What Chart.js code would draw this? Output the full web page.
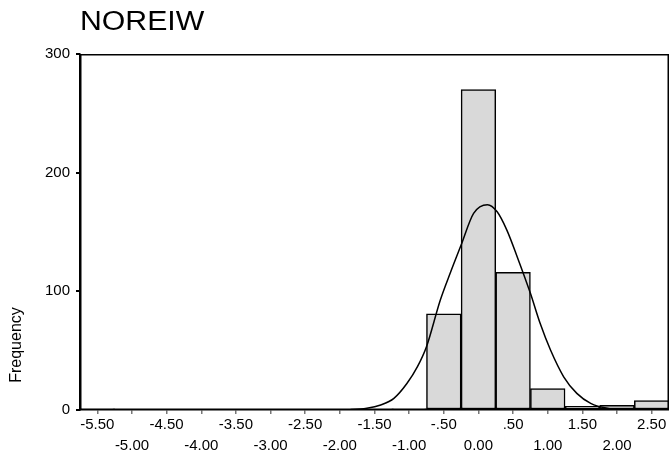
<!DOCTYPE html>
<html>
<head>
<meta charset="utf-8">
<script src="https://cdn.jsdelivr.net/npm/chart.js@4/dist/chart.umd.min.js"></script>
<style>
  html, body { margin: 0; padding: 0; background: #fff; }
  #wrap { width: 669px; height: 459px; position: relative; }
</style>
</head>
<body>
<div id="wrap"><canvas id="myChart" width="669" height="459"></canvas></div>
<script>
// histogram bins (centres) and frequencies
var binCenters = [-5.5, -5.0, -4.5, -4.0, -3.5, -3.0, -2.5, -2.0, -1.5, -1.0, -0.5, 0.0, 0.5, 1.0, 1.5, 2.0, 2.5];
var binCounts  = [1, 0, 0, 0, 0, 0, 0, 0, 0, 1, 81, 270, 116, 18, 3, 4, 8];

// normal curve
var curveX = [-5.75, -2.1, -1.85, -1.61, -1.41, -1.22, -1.03, -0.88, -0.75, -0.55, -0.40, -0.25, -0.07, 0.13, 0.27, 0.41, 0.56, 0.75, 0.89, 1.04, 1.23, 1.42, 1.62, 1.86, 2.10, 2.40, 2.75];
var curveY = [0, 0.1, 0.3, 1.4, 4.2, 9.8, 22.5, 36.5, 53.3, 92.7, 116.5, 139, 165.7, 173, 167, 151.6, 129, 98.3, 73, 50.5, 28, 14, 5.6, 1.4, 0.3, 0, 0];

// axis ticks
var xTickValues = [-5.5, -5.0, -4.5, -4.0, -3.5, -3.0, -2.5, -2.0, -1.5, -1.0, -0.5, 0.0, 0.5, 1.0, 1.5, 2.0, 2.5];
var xTickLabels = ['-5.50', '-5.00', '-4.50', '-4.00', '-3.50', '-3.00', '-2.50', '-2.00', '-1.50', '-1.00', '-.50', '0.00', '.50', '1.00', '1.50', '2.00', '2.50'];
var yTickValues = [0, 100, 200, 300];

var chartTitle = 'NOREIW';
var yTitle = 'Frequency';

var fontFam = '"Liberation Sans", Arial, sans-serif';

var barData = binCenters.map(function (c, i) { return { x: c, y: binCounts[i] }; });
var lineData = curveX.map(function (x, i) { return { x: x, y: curveY[i] }; });

// frame + titles
var extras = {
    id: 'extras',
    afterDatasetsDraw: function (chart) {
        var ctx = chart.ctx, a = chart.chartArea;
        ctx.save();
        ctx.strokeStyle = '#000';
        ctx.lineWidth = 1.5;
        ctx.strokeRect(a.left + 0.75, a.top + 0.75, a.right - a.left - 1.5, a.bottom - a.top - 1.5);
        ctx.restore();
    },
    afterDraw: function (chart) {
        var ctx = chart.ctx, a = chart.chartArea;
        ctx.save();
        ctx.fillStyle = '#000';
        ctx.textAlign = 'left';
        ctx.textBaseline = 'alphabetic';
        ctx.save();
        ctx.translate(a.left, 30);
        ctx.scale(1.12, 1);
        ctx.font = '27px ' + fontFam;
        ctx.fillText(chartTitle, 0, 0);
        ctx.restore();
        ctx.translate(21, a.bottom - 65);
        ctx.rotate(-Math.PI / 2);
        ctx.font = '16px ' + fontFam;
        ctx.textAlign = 'center';
        ctx.fillText(yTitle, 0, 0);
        ctx.restore();
    }
};

var ctx = document.getElementById('myChart').getContext('2d');
var chart = new Chart(ctx, {
    type: 'bar',
    data: {
        datasets: [{
            type: 'line',
            data: lineData,
            borderColor: '#000',
            borderWidth: 1.5,
            pointRadius: 0,
            cubicInterpolationMode: 'monotone',
            fill: false,
            order: 0
        }, {
            type: 'bar',
            data: barData,
            backgroundColor: '#d9d9d9',
            borderColor: '#000',
            borderWidth: 1.5,
            borderSkipped: false,
            barPercentage: 1,
            categoryPercentage: 1,
            order: 1
        }]
    },
    options: {
        responsive: false,
        animation: false,
        layout: { padding: { top: 54, left: 0, right: 0, bottom: 0 } },
        plugins: {
            legend: { display: false },
            tooltip: { enabled: false }
        },
        scales: {
            x: {
                type: 'linear',
                offset: false,
                min: -5.75,
                max: 2.75,
                afterBuildTicks: function (scale) {
                    scale.ticks = xTickValues.map(function (v) { return { value: v }; });
                },
                afterFit: function (scale) { scale.height = 49; },
                grid: { offset: false, drawOnChartArea: false, drawTicks: true, tickLength: 4, color: '#777', lineWidth: 1.5 },
                border: { display: true, color: '#000', width: 1.5 },
                ticks: {
                    autoSkip: false,
                    maxRotation: 0,
                    padding: 0,
                    color: '#000',
                    font: { family: fontFam, size: 15, lineHeight: 1.4 },
                    callback: function (value, index) {
                        var lbl = xTickLabels[index];
                        return index % 2 === 0 ? lbl : ['', lbl];
                    }
                }
            },
            y: {
                min: 0,
                max: 300,
                afterBuildTicks: function (scale) {
                    scale.ticks = yTickValues.map(function (v) { return { value: v }; });
                },
                afterFit: function (scale) { scale.width = 80; },
                grid: { drawOnChartArea: false, drawTicks: true, tickLength: 4, color: '#000', lineWidth: 2 },
                border: { display: true, color: '#000', width: 1.5 },
                ticks: {
                    padding: 6,
                    color: '#000',
                    font: { family: fontFam, size: 15 }
                }
            }
        }
    },
    plugins: [extras]
});
</script>
</body>
</html>
